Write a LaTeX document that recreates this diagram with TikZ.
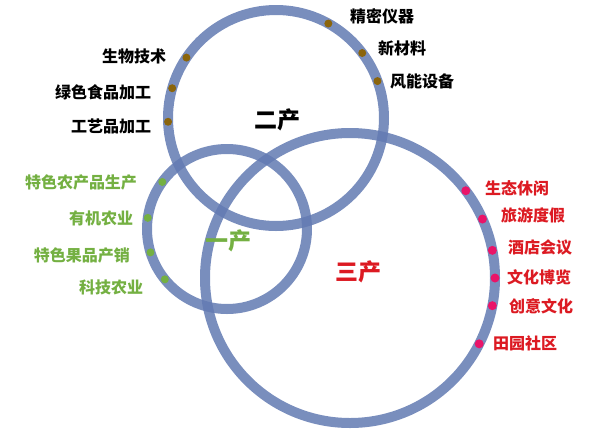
\documentclass[tikz,border=0pt]{standalone}
\usepackage{fontspec}
\newfontfamily\cjk{Noto Sans CJK SC}

\definecolor{ringblue}{RGB}{98,122,178}
\definecolor{dotbrown}{RGB}{139,101,12}
\definecolor{agrigreen}{RGB}{116,176,66}
\definecolor{servred}{RGB}{220,26,34}
\definecolor{dotpink}{RGB}{234,20,104}

\tikzset{
  ring/.style={circle, draw=ringblue, draw opacity=0.85, line width=10pt, inner sep=0pt, outer sep=0pt},
  lbl/.style={font=\cjk\bfseries\fontsize{16}{18}\selectfont, inner sep=0pt},
  big/.style={font=\cjk\bfseries\fontsize{23}{26}\selectfont, inner sep=0pt}
}

\begin{document}
\begin{tikzpicture}[x=1pt, y=-1pt]
            \useasboundingbox (0,0) rectangle (600,432);

            \node[ring, minimum size=216pt] (er) at (276,118) {};
            \node[ring, minimum size=160pt] (yi) at (227,229) {};
            \node[ring, minimum size=290pt] (san) at (350,278) {};

            \fill[dotbrown] (er.61) circle (4pt);
            \fill[dotbrown] (er.37) circle (4pt);
            \fill[dotbrown] (er.20) circle (4pt);
            \fill[dotbrown] (er.146) circle (4pt);
            \fill[dotbrown] (er.164) circle (4pt);
            \fill[dotbrown] (er.182) circle (4pt);

            \fill[agrigreen] (yi.144) circle (4pt);
            \fill[agrigreen] (yi.172) circle (4pt);
            \fill[agrigreen] (yi.197) circle (4pt);
            \fill[agrigreen] (yi.219) circle (4pt);

            \fill[dotpink] (san.37) circle (4.5pt);
            \fill[dotpink] (san.24.5) circle (4.5pt);
            \fill[dotpink] (san.11.5) circle (4.5pt);
            \fill[dotpink] (san.0) circle (4.5pt);
            \fill[dotpink] (san.-11) circle (4.5pt);
            \fill[dotpink] (san.-27) circle (4.5pt);

            \node[big] (ername) at (277,120) {二产};
            \node[big, agrigreen] (yiname) at (228,241) {一产};
            \node[big, servred] (sanname) at (358,272) {三产};

            \node[lbl] (jingmi) at (382,16) {精密仪器};
            \node[lbl] (xincai) at (402,48) {新材料};
            \node[lbl] (fengneng) at (422,81) {风能设备};
            \node[lbl] (shengwu) at (134,56) {生物技术};
            \node[lbl] (lvse) at (103,92) {绿色食品加工};
            \node[lbl] (gongyi) at (111,126) {工艺品加工};

            \node[lbl, agrigreen] (tesenong) at (81,182) {特色农产品生产};
            \node[lbl, agrigreen] (youji) at (101,218) {有机农业};
            \node[lbl, agrigreen] (teseguo) at (82,255) {特色果品产销};
            \node[lbl, agrigreen] (keji) at (111,287) {科技农业};

            \node[lbl, servred] (shengtai) at (517,188) {生态休闲};
            \node[lbl, servred] (lvyou) at (533,215) {旅游度假};
            \node[lbl, servred] (jiudian) at (540,247) {酒店会议};
            \node[lbl, servred] (wenhua) at (539,277) {文化博览};
            \node[lbl, servred] (chuangyi) at (541,306) {创意文化};
            \node[lbl, servred] (tianyuan) at (525,343) {田园社区};
        \end{tikzpicture}
\end{document}
